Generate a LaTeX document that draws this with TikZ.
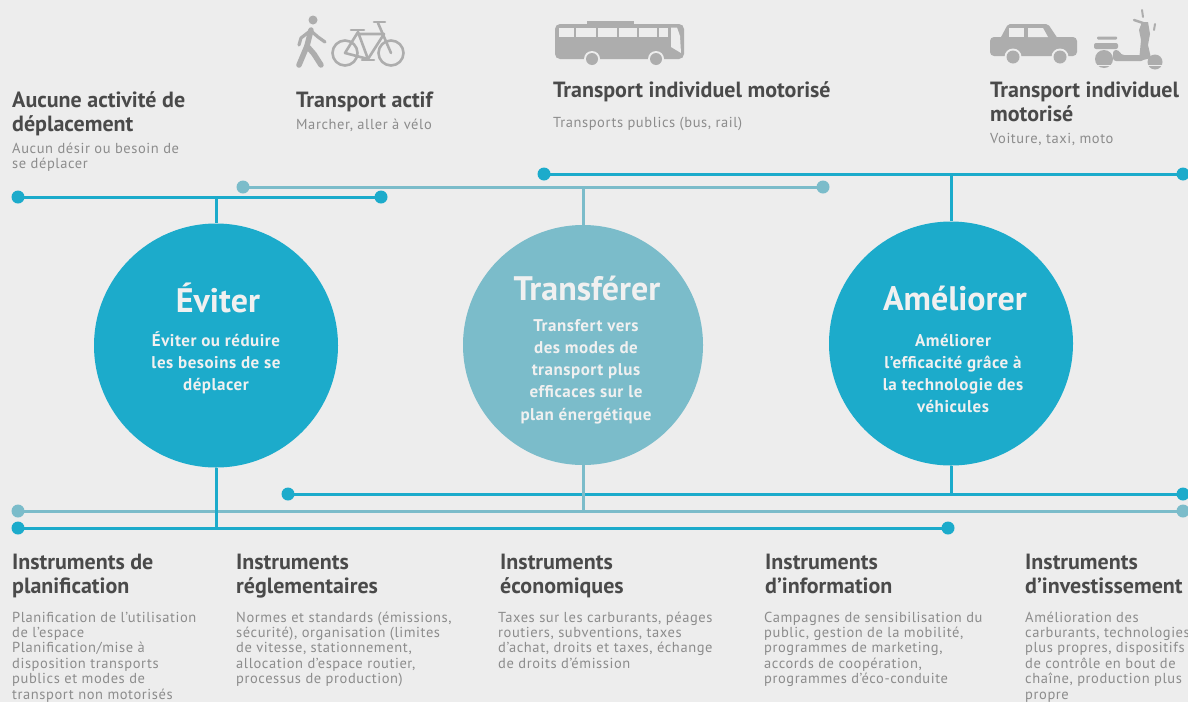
\documentclass[tikz,border=0pt]{standalone}
\usepackage{fontspec}
\setmainfont{PT Sans}
\newfontfamily\spaced[LetterSpace=4]{PT Sans}
\newfontfamily\spacedc[LetterSpace=3]{PT Sans}
\definecolor{bgc}{HTML}{EDEDED}
\definecolor{dkb}{HTML}{1CABCB}
\definecolor{ltb}{HTML}{7BBCCA}
\definecolor{hdg}{HTML}{4A4A4A}
\definecolor{dsc}{HTML}{8C8C8C}
\definecolor{icn}{HTML}{ADADAD}
\definecolor{wht}{HTML}{F0F0F0}
\newcommand{\ml}[2]{\begin{tabular}[t]{@{}#1@{}}#2\end{tabular}}
\newcommand{\myhd}{\bfseries\fontsize{22}{24.5}\selectfont}
\newcommand{\myds}{\spaced\fontsize{14.5}{15.4}\selectfont}
\newcommand{\myct}{\bfseries\fontsize{34}{36}\selectfont}
\newcommand{\mycs}{\spacedc\bfseries\fontsize{17}{22.3}\selectfont}
\begin{document}
\begin{tikzpicture}[x=1pt,y=-1pt,
  hd/.style={font=\myhd, text=hdg, anchor=base west, inner sep=0},
  ds/.style={font=\myds, text=dsc, anchor=base west, inner sep=0},
  ct/.style={font=\myct, text=wht, anchor=base, inner sep=0},
  cs/.style={font=\mycs, text=wht, anchor=base, inner sep=0},
  bigc/.style={circle, inner sep=0, draw=none},
  dkl/.style={draw=dkb, line width=3pt},
  ltl/.style={draw=ltb, line width=3pt},
  dotd/.style={circle, fill=dkb, minimum size=13pt, inner sep=0},
  dotl/.style={circle, fill=ltb, minimum size=13pt, inner sep=0},
  ic/.style={icn, line cap=round, line join=round}]
\fill[bgc] (0,0) rectangle (1188,702);
\useasboundingbox (0,0) rectangle (1188,702);

% ---------- icons ----------
% pedestrian
\fill[icn] (313,20) circle (4.5);
\draw[ic, line width=5.5pt] (311,30) -- (307,46) -- (299,65);
\draw[ic, line width=5.5pt] (307,46) -- (314,54) -- (321,65);
\draw[ic, line width=3.2pt] (310,31) -- (301,38) -- (299,45);
\draw[ic, line width=3.2pt] (311,31) -- (318,37) -- (325,42);
% bicycle
\draw[ic, line width=2.6pt] (345,53) circle (12.5);
\draw[ic, line width=2.6pt] (391,53) circle (12.5);
\draw[ic, line width=2.6pt] (345,53) -- (368,59) -- (358,32) -- cycle;
\draw[ic, line width=2.6pt] (358,34) -- (384,34) -- (368,59);
\draw[ic, line width=2.6pt] (378,23) -- (391,53);
\draw[ic, line width=2.6pt] (351,30) -- (364,30);
\draw[ic, line width=2.6pt] (374,22) -- (385,22);
\draw[ic, line width=2.6pt] (362,60) -- (374,60);
% bus
\fill[icn] (587,20.5) rectangle (634,26);
\fill[icn, rounded corners=5pt] (555,24) rectangle (684,59);
\fill[bgc] (559,27.5) rectangle (668,37);
\foreach \xx in {575,597,618,638,658} \fill[icn] (\xx-0.8,27) rectangle (\xx+0.8,37.5);
\fill[bgc] (671,27.5) -- (677,27.5) -- (680,36) -- (681,53) -- (671,47) -- cycle;
\fill[bgc] (592,59) circle (8);
\fill[icn] (592,59) circle (6);
\fill[bgc] (656,59) circle (8);
\fill[icn] (656,59) circle (6);
% car
\fill[icn, rounded corners=2pt] (1000,39) -- (1008,24) -- (1048,24) -- (1058,39) -- cycle;
\fill[icn, rounded corners=4pt] (990,37) rectangle (1077,56);
\fill[bgc] (1009,28) rectangle (1024,37);
\fill[bgc] (1028,28) -- (1043,28) -- (1048,37) -- (1028,37) -- cycle;
\fill[bgc] (1013,57) circle (8.5);
\fill[icn] (1013,57) circle (6.5);
\fill[bgc] (1060,57) circle (8.5);
\fill[icn] (1060,57) circle (6.5);
% scooter
\fill[icn, rounded corners=1pt] (1097,36.5) rectangle (1117,39.5);
\fill[icn, rounded corners=2pt] (1094,43) rectangle (1118,49);
\fill[icn] (1104,59) circle (9);
\fill[icn, rounded corners=3pt] (1113,50) -- (1119,50) -- (1121,55) -- (1142,55) -- (1144,61) -- (1113,61) -- cycle;
\fill[icn] (1139,61) -- (1141,40) -- (1139,30) -- (1142,22) -- (1148,22) -- (1150,34) -- (1148,45) -- (1151,58) -- cycle;
\draw[ic, line width=2.5pt] (1134,20) -- (1143,23);
\draw[ic, line width=2pt] (1142,10) -- (1143,17);
\draw[ic, line width=2pt] (1155,24) -- (1154,30);
\fill[icn] (1155,62) circle (7.5);
\fill[bgc] (1093,64.5) rectangle (1165,66);

% ---------- circles ----------
\node[bigc, fill=dkb, minimum size=244pt] (ev) at (216,345.5) {};
\node[bigc, fill=ltb, minimum size=240pt] (tr) at (583,345) {};
\node[bigc, fill=dkb, minimum size=244pt] (am) at (951,343.5) {};

% ---------- top lines ----------
\node[dotd] (a1) at (18,197) {};
\node[dotd] (a2) at (381,197) {};
\node[dotl] (b1) at (243,187) {};
\node[dotl] (b2) at (823,187) {};
\node[dotd] (c1) at (544,174) {};
\node[dotd] (c2) at (1183,174) {};
\coordinate (ja) at (216,197);
\coordinate (jb) at (583,187);
\coordinate (jc) at (951,174);
\draw[dkl] (a1.center) -- (a2.center);
\draw[ltl] (b1.center) -- (b2.center);
\draw[dkl] (c1.center) -- (c2.center);
\draw[dkl] (ja) -- (ev.north);
\draw[ltl] (jb) -- (tr.north);
\draw[dkl] (jc) -- (am.north);

% ---------- bottom lines ----------
\node[dotd] (d1) at (288,494) {};
\node[dotd] (d2) at (1183,494) {};
\node[dotl] (e1) at (18,511) {};
\node[dotl] (e2) at (1183,511) {};
\node[dotd] (f1) at (18,528) {};
\node[dotd] (f2) at (948,528) {};
\coordinate (jd) at (951,494);
\coordinate (je) at (583,511);
\coordinate (jf) at (216,528);
\draw[dkl] (d1.center) -- (d2.center);
\draw[ltl] (e1.center) -- (e2.center);
\draw[dkl] (f1.center) -- (f2.center);
\draw[dkl] (am.south) -- (jd);
\draw[ltl] (tr.south) -- (je);
\draw[dkl] (ev.south) -- (jf);

% ---------- circle texts ----------
\node[ct] (evt) at (218,312) {Éviter};
\node[cs] (evs) at (216,346) {\ml{c}{Éviter ou réduire\\les besoins de se\\déplacer}};
\node[ct] (trt) at (587,300) {Transférer};
\node[cs] (trs) at (586,331) {\ml{c}{Transfert vers\\des modes de\\transport plus\\efficaces sur le\\plan énergétique}};
\node[ct] (amt) at (955,310) {Améliorer};
\node[cs] (ams) at (953,346) {\ml{c}{Améliorer\\l’efficacité grâce à\\la technologie des\\véhicules}};

% ---------- top texts ----------
\node[hd] (t1h) at (12,107) {\ml{l}{Aucune activité de\\déplacement}};
\node[ds] (t1d) at (12,153) {\ml{l}{Aucun désir ou besoin de\\se déplacer}};
\node[hd] (t2h) at (296,107) {Transport actif};
\node[ds] (t2d) at (296,129) {Marcher, aller à vélo};
\node[hd] (t3h) at (553,97) {Transport individuel motorisé};
\node[ds] (t3d) at (553,127) {Transports publics (bus, rail)};
\node[hd] (t4h) at (990,97) {\ml{l}{Transport individuel\\motorisé}};
\node[ds] (t4d) at (990,143) {Voiture, taxi, moto};

% ---------- bottom texts ----------
\node[hd] (b1h) at (12,569) {\ml{l}{Instruments de\\planification}};
\node[ds] (b1d) at (12,622) {\ml{l}{Planification de l’utilisation\\de l’espace\\Planification/mise à\\disposition transports\\publics et modes de\\transport non motorisés}};
\node[hd] (b2h) at (236,569) {\ml{l}{Instruments\\réglementaires}};
\node[ds] (b2d) at (236,622) {\ml{l}{Normes et standards (émissions,\\sécurité), organisation (limites\\de vitesse, stationnement,\\allocation d’espace routier,\\processus de production)}};
\node[hd] (b3h) at (500,569) {\ml{l}{Instruments\\économiques}};
\node[ds] (b3d) at (498,622) {\ml{l}{Taxes sur les carburants, péages\\routiers, subventions, taxes\\d’achat, droits et taxes, échange\\de droits d’émission}};
\node[hd] (b4h) at (765,569) {\ml{l}{Instruments\\d’information}};
\node[ds] (b4d) at (764,622) {\ml{l}{Campagnes de sensibilisation du\\public, gestion de la mobilité,\\programmes de marketing,\\accords de coopération,\\programmes d’éco-conduite}};
\node[hd] (b5h) at (1025,569) {\ml{l}{Instruments\\d’investissement}};
\node[ds] (b5d) at (1025,622) {\ml{l}{Amélioration des\\carburants, technologies\\plus propres, dispositifs\\de contrôle en bout de\\chaîne, production plus\\propre}};
\end{tikzpicture}
\end{document}
